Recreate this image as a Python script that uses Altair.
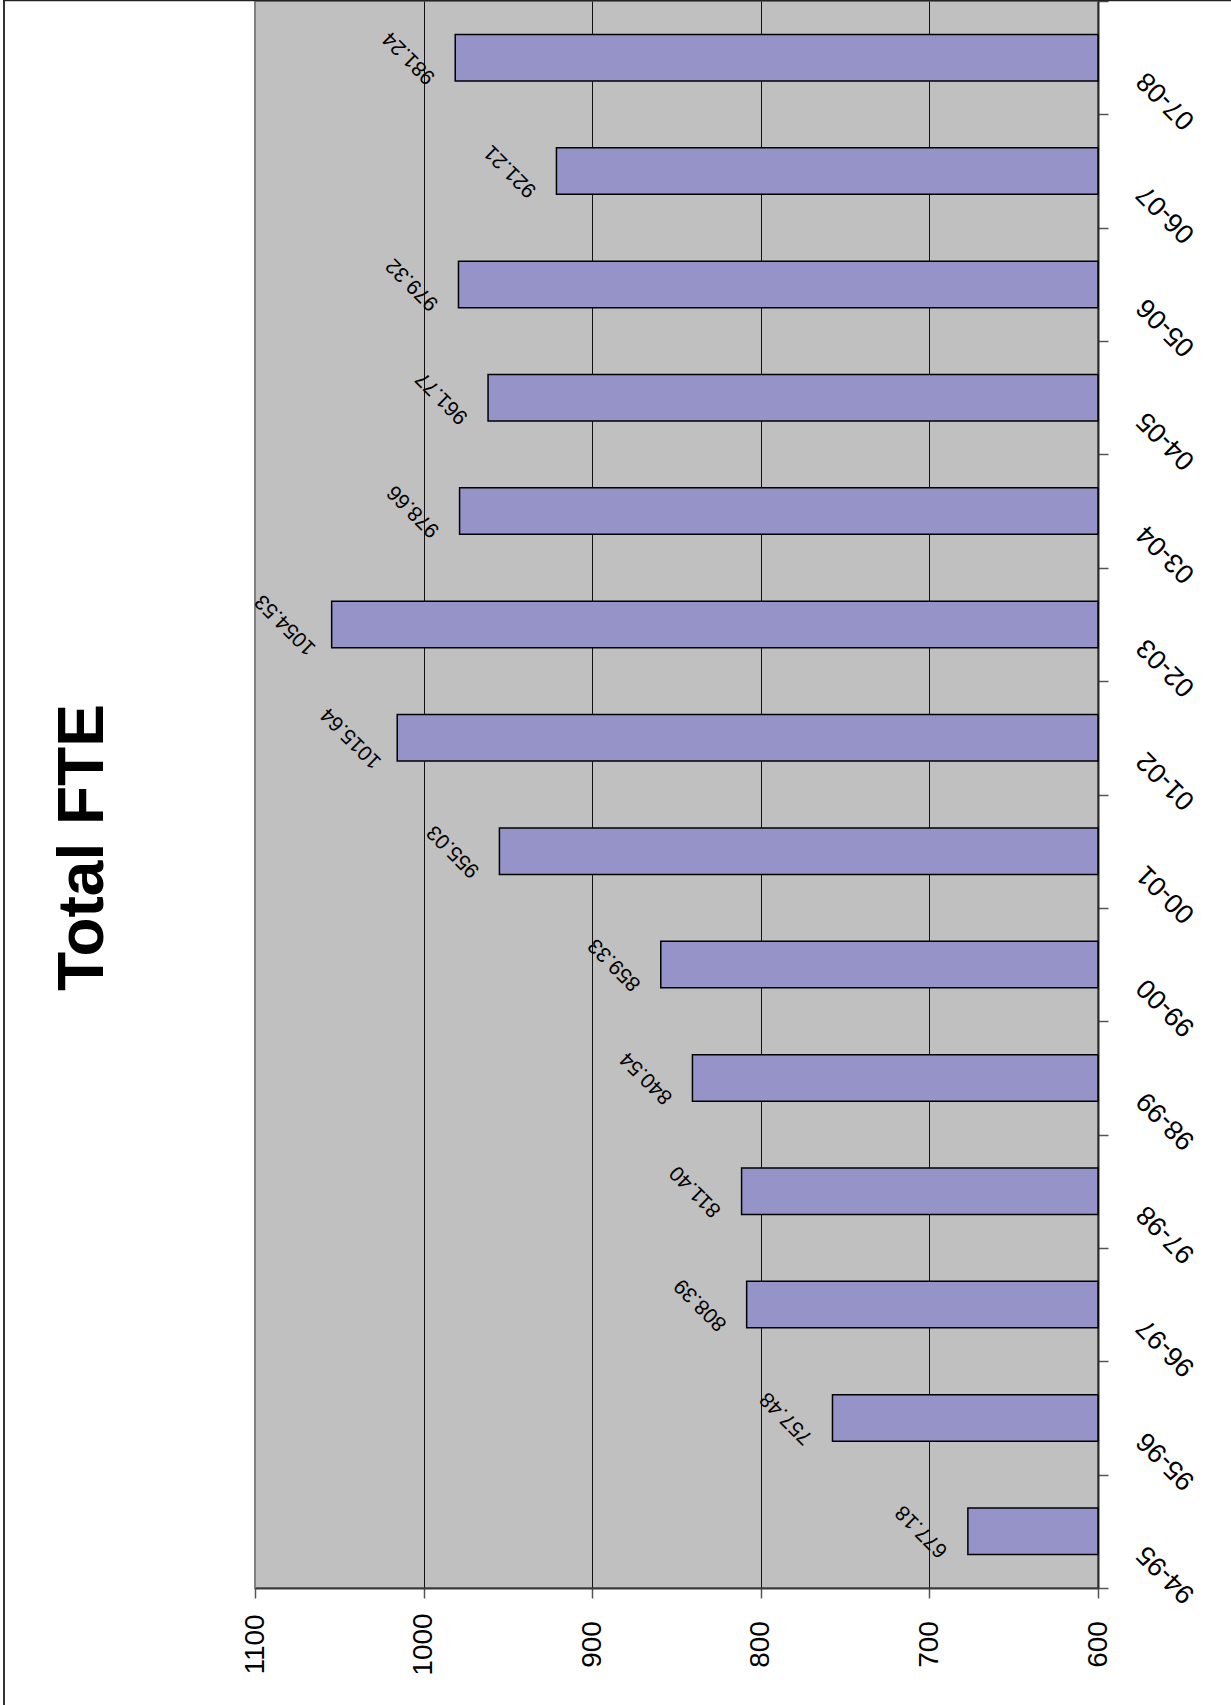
import altair as alt
import pandas as pd

# Total FTE by fiscal year
years = ["94-95", "95-96", "96-97", "97-98", "98-99", "99-00", "00-01",
         "01-02", "02-03", "03-04", "04-05", "05-06", "06-07", "07-08"]
fte = [677.18, 757.48, 808.39, 811.40, 840.54, 859.33, 955.03,
       1015.64, 1054.53, 978.66, 961.77, 979.32, 921.21, 981.24]
value_ticks = [600, 700, 800, 900, 1000, 1100]

df = pd.DataFrame({"year": years, "fte": fte})

FONT = "Liberation Sans"
PLOT_W, PLOT_H = 843, 1587
PAD = {"left": 255, "top": 1, "right": 133, "bottom": 117}

x_scale = alt.Scale(domain=[600, 1100], reverse=True, zero=False, nice=False)
y_sort = list(reversed(years))
y_scale = alt.Scale(paddingInner=0, paddingOuter=0)

x_axis = alt.Axis(
    values=value_ticks, format="d", title=None,
    labelAngle=-90, labelAlign="center", labelBaseline="middle",
    labelFont=FONT, labelFontSize=28, labelColor="black", labelPadding=46,
    tickSize=10, tickColor="#555555", tickWidth=1.5,
    domainColor="#3a3a3a", domainWidth=2,
    grid=True, gridColor="#111111", gridWidth=1,
    gridOpacity=alt.condition("datum.value >= 1100", alt.value(0), alt.value(1)),
)
y_axis = alt.Axis(
    orient="right", title=None,
    labelAngle=225, labelAlign="right", labelBaseline="middle",
    labelFont=FONT, labelFontSize=27, labelColor="black",
    labelPadding=33, labelOffset=18,
    tickBand="extent", tickSize=10, tickColor="#555555", tickWidth=1.5,
    domainColor="#2a2a2a", domainWidth=2, grid=False,
)

base = alt.Chart(df)

bars = base.mark_bar(
    color="#9693C8", stroke="black", strokeWidth=1.5,
    height=alt.RelativeBandSize(band=0.41),
).encode(
    x=alt.X("fte:Q", scale=x_scale, axis=x_axis),
    x2=alt.datum(600),
    y=alt.Y("year:N", sort=y_sort, scale=y_scale, axis=y_axis),
)

labels = base.mark_text(
    angle=225, align="center", baseline="middle", dx=32.5, dy=-32.5,
    font=FONT, fontSize=21, color="black",
).encode(
    x=alt.X("fte:Q", scale=x_scale),
    y=alt.Y("year:N", sort=y_sort, scale=y_scale),
    text=alt.Text("fte:Q", format=".2f"),
)

# outer frame of the chart area (left and top edges)
frame_src = alt.Chart(pd.DataFrame({"k": [0]}))
frame_left = frame_src.mark_rule(color="#333333", strokeWidth=2).encode(
    x=alt.value(-251), y=alt.value(-1), y2=alt.value(PLOT_H + PAD["bottom"])
)
frame_top = frame_src.mark_rule(color="#222222", strokeWidth=1.5).encode(
    x=alt.value(-252), x2=alt.value(PLOT_W + PAD["right"]), y=alt.value(-0.5)
)

chart = alt.layer(bars, labels, frame_left, frame_top).properties(
    width=PLOT_W,
    height=PLOT_H,
    padding=PAD,
    autosize=alt.AutoSizeParams(type="none"),
    background="white",
    title=alt.TitleParams(
        text="Total FTE", orient="left", anchor="middle", frame="group",
        font=FONT, fontSize=64, fontWeight="bold", color="black",
        baseline="alphabetic", offset=-165, dx=-53,
    ),
).configure_view(
    fill="#C0C0C0", stroke="#808080", strokeWidth=2
)

chart.save("out.html", embed_options={"renderer": "svg", "actions": False})
